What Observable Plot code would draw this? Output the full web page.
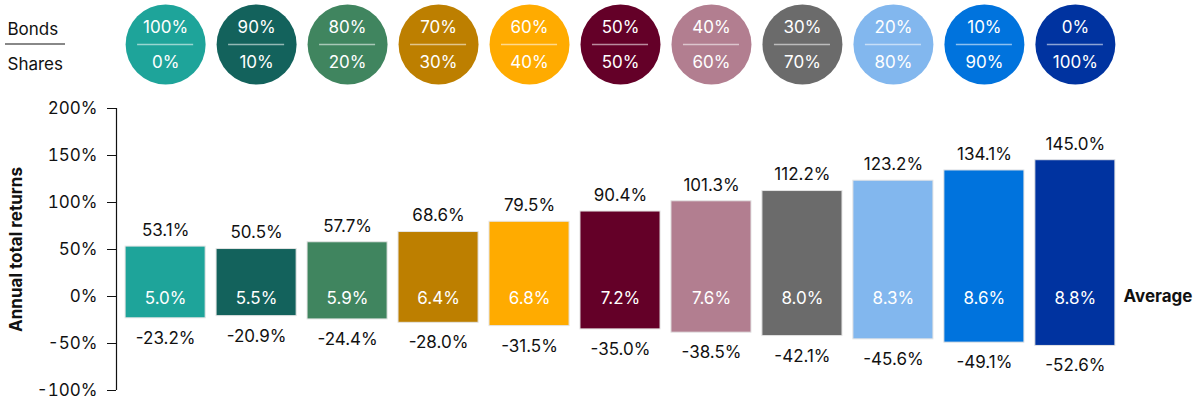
<!DOCTYPE html>
<html>
<head>
<meta charset="utf-8">
<script src="https://cdn.jsdelivr.net/npm/d3@7"></script>
<script src="https://cdn.jsdelivr.net/npm/@observablehq/plot@0.6"></script>
<style>
  html, body { margin: 0; padding: 0; background: #fff; }
  #chart svg { display: block; }
</style>
</head>
<body>
<div id="chart"></div>
<script>
const bonds  = ["100%", "90%", "80%", "70%", "60%", "50%", "40%", "30%", "20%", "10%", "0%"];
const shares = ["0%", "10%", "20%", "30%", "40%", "50%", "60%", "70%", "80%", "90%", "100%"];
const maxReturn = [53.1, 50.5, 57.7, 68.6, 79.5, 90.4, 101.3, 112.2, 123.2, 134.1, 145.0];
const avgReturn = [5.0, 5.5, 5.9, 6.4, 6.8, 7.2, 7.6, 8.0, 8.3, 8.6, 8.8];
const minReturn = [-23.2, -20.9, -24.4, -28.0, -31.5, -35.0, -38.5, -42.1, -45.6, -49.1, -52.6];
const colors = ["#1ea49a", "#13625c", "#40855f", "#bd7f00", "#ffab00", "#640028", "#b27e90", "#6b6b6b", "#82b7ee", "#0073dd", "#0033a0"];
const yTicks = [-100, -50, 0, 50, 100, 150, 200];

const data = bonds.map((b, i) => ({
  key: b + "/" + shares[i],
  bonds: b, shares: shares[i],
  max: maxReturn[i], avg: avgReturn[i], min: minReturn[i],
  color: colors[i]
}));
const keys = data.map(d => d.key);
const font = "Inter, Lato, 'Noto Sans', sans-serif";
const fmt = v => v.toFixed(1) + "%";
const fs = 17;

const chart = Plot.plot({
  width: 1200,
  height: 408,
  marginTop: 108,
  marginBottom: 18,
  marginLeft: 116,
  marginRight: 76,
  style: { fontFamily: font, fontSize: fs + "px", color: "#111", background: "#fff" },
  x: { domain: keys, paddingInner: 0.12, paddingOuter: 0.1, round: false, axis: null },
  y: { domain: [-100, 200], ticks: yTicks, tickFormat: d => d + "%", label: null },
  color: { type: "identity" },
  marks: [
    Plot.axisY({ ticks: yTicks, tickFormat: d => d + "%", tickSize: 9, tickPadding: 10, fontSize: fs, label: null, stroke: "#111", color: "#111" }),
    Plot.barY(data, { x: "key", y1: "min", y2: "max", fill: "color", stroke: "#e4e4e4", strokeWidth: 1 }),
    Plot.text(data, { x: "key", y: "max", text: d => fmt(d.max), dy: -16, fontSize: fs, fill: "#111" }),
    Plot.text(data, { x: "key", y: "min", text: d => fmt(d.min), dy: 20, fontSize: fs, fill: "#111" }),
    Plot.text(data, { x: "key", y: () => 0, text: d => fmt(d.avg), dy: 2, fontSize: fs, fill: "#fff" }),
    Plot.text(["Average"], { frameAnchor: "right", y: () => 0, textAnchor: "start", lineAnchor: "middle", dx: -1, fontSize: fs, fontWeight: "bold", fill: "#111" }),
    Plot.text(["Annual total returns"], { frameAnchor: "left", textAnchor: "middle", lineAnchor: "middle", rotate: -90, dx: -100, dy: 0, fontSize: fs, fontWeight: "bold", fill: "#111" }),
    // legend circles
    Plot.dot(data, { x: "key", frameAnchor: "top", dy: -64, r: 40, fill: "color", stroke: null }),
    Plot.text(data, { x: "key", frameAnchor: "top", lineAnchor: "middle", text: "bonds", dy: -81, fontSize: fs, fill: "#fff" }),
    Plot.text(data, { x: "key", frameAnchor: "top", lineAnchor: "middle", text: "shares", dy: -46, fontSize: fs, fill: "#fff" }),
    Plot.tickY(data, { x: "key", y: () => 200, dy: -64, insetLeft: 12, insetRight: 12, stroke: "#fff", strokeOpacity: 0.55, strokeWidth: 1.5 }),
    Plot.text(["Bonds"], { frameAnchor: "top-left", lineAnchor: "middle", dx: -109, dy: -79, textAnchor: "start", fontSize: fs, fill: "#111" }),
    Plot.text(["Shares"], { frameAnchor: "top-left", lineAnchor: "middle", dx: -109, dy: -44, textAnchor: "start", fontSize: fs, fill: "#111" })
  ]
});
document.getElementById("chart").appendChild(chart);

const svg = d3.select(chart);
const y = chart.scale("y");
// vertical y-axis domain line, placed with the chart's own y scale
svg.append("line")
  .attr("x1", 116.5).attr("x2", 116.5)
  .attr("y1", y.apply(200)).attr("y2", y.apply(-100))
  .attr("stroke", "#111").attr("stroke-width", 1.2);
// separator line between "Bonds" and "Shares" in the legend
svg.append("line").attr("x1", 5).attr("x2", 65).attr("y1", 44).attr("y2", 44)
  .attr("stroke", "#888").attr("stroke-width", 2);
</script>
</body>
</html>
